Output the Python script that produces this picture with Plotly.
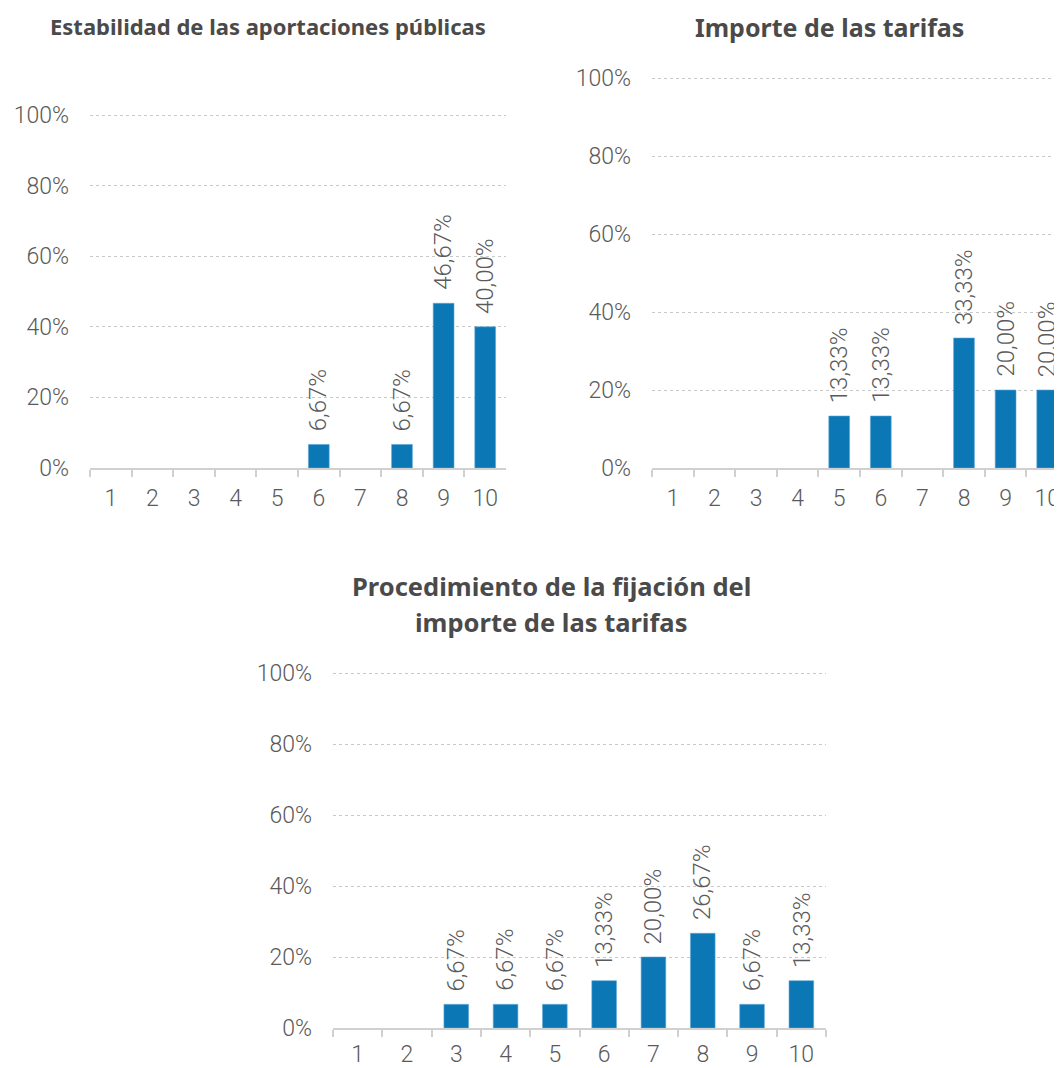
import plotly.graph_objects as go

categories = ["1", "2", "3", "4", "5", "6", "7", "8", "9", "10"]
estabilidad = [0, 0, 0, 0, 0, 0.0667, 0, 0.0667, 0.4667, 0.40]
importe = [0, 0, 0, 0, 0.1333, 0.1333, 0, 0.3333, 0.20, 0.20]
procedimiento = [0, 0, 0.0667, 0.0667, 0.0667, 0.1333, 0.20, 0.2667, 0.0667, 0.1333]
y_ticks = [0, 0.2, 0.4, 0.6, 0.8, 1.0]
y_ticklabels = ["0%", "20%", "40%", "60%", "80%", "100%"]
title_lines = [["Estabilidad de las aportaciones públicas"], ["Importe de las tarifas"],
               ["Procedimiento de la fijación del", "importe de las tarifas"]]

# page is shown with an 8px body margin: work in page pixels, convert to figure pixels
OFF = 8
PW, PH = 1062, 1068
W, H = PW - OFF, PH - OFF
BAR = "#0B77B5"
GREY = "#5a5a5a"
TITLE_C = "#4a4a4a"
FONT = "Roboto"
TFONT = "Noto Sans"
TOP = 1.03

def fmt(v):
    return f"{v*100:.2f}%".replace(".", ",")

def px_x(p):
    return (p - OFF) / W

def px_y(p):
    return (H - (p - OFF)) / H

fig = go.Figure()
series = [estabilidad, importe, procedimiento]
suffix = ["", "2", "3"]
for i, vals in enumerate(series):
    fig.add_trace(go.Bar(
        x=categories, y=[v if v > 0 else None for v in vals],
        marker=dict(color=BAR, line=dict(color="#5EA7D6", width=0.6)),
        xaxis="x" + suffix[i], yaxis="y" + suffix[i], showlegend=False, hoverinfo="skip",
    ))
    for k, (c, v) in enumerate(zip(categories, vals)):
        if v > 0:
            fig.add_annotation(
                x=k, y=v, xref="x" + suffix[i], yref="y" + suffix[i],
                text=fmt(v), textangle=-90, showarrow=False,
                yanchor="bottom", xanchor="center", yshift=11,
                font=dict(family=FONT, size=24, color=GREY, weight=300),
            )

def xd(a, b):
    return [px_x(a), min(px_x(b), 1)]

def yd(zero_px, hundred_px):
    ppu = zero_px - hundred_px
    top_px = zero_px - TOP * ppu
    return [px_y(zero_px), px_y(top_px)]

geo = [
    dict(x=xd(90, 506), y=yd(468, 115), xr=[-0.5, 9.5], so=9),
    dict(x=xd(652, 1062), y=yd(468, 78), xr=[-0.5, -0.5 + (1062 - 652) / 41.6], so=9),
    dict(x=xd(333, 826), y=yd(1028, 673), xr=[-0.5, 9.5], so=5),
]

layout = dict(
    width=W, height=H, margin=dict(l=0, r=0, t=0, b=0),
    paper_bgcolor="white", plot_bgcolor="white", bargap=0.5,
    font=dict(family=FONT, color=GREY),
)
for i, g in enumerate(geo):
    xn = "xaxis" + suffix[i]
    yn = "yaxis" + suffix[i]
    layout[xn] = dict(
        domain=g["x"], anchor="y" + suffix[i], type="category", range=g["xr"],
        showline=True, linecolor="#d0d0d0", linewidth=1.5,
        ticks="outside", tickson="boundaries", ticklen=7, tickcolor="#d0d0d0", tickwidth=1.5,
        showgrid=False, tickfont=dict(family=FONT, size=23, color=GREY, weight=300),
        ticklabelstandoff=g["so"], fixedrange=True, automargin=False,
    )
    layout[yn] = dict(
        domain=g["y"], anchor="x" + suffix[i], range=[0, TOP],
        tickvals=y_ticks, ticktext=y_ticklabels,
        showgrid=True, gridcolor="#c8c8c8", griddash="dot", gridwidth=1,
        zeroline=False, showline=False, ticks="",
        tickfont=dict(family=FONT, size=23, color=GREY, weight=300),
        ticklabelstandoff=20, fixedrange=True, automargin=False,
    )
fig.update_layout(**layout)

# title line centres in page pixels, font size
title_pos = [[(268, 26)], [(829, 27)], [(551, 586), (551, 622)]]
title_size = [22, 25, 25.5]
for lines, pos, fs in zip(title_lines, title_pos, title_size):
    for t, (cx, cy) in zip(lines, pos):
        fig.add_annotation(
            x=px_x(cx), y=px_y(cy), xref="paper", yref="paper", text=t, showarrow=False,
            xanchor="center", yanchor="middle",
            font=dict(family=TFONT, size=fs, color=TITLE_C, weight="bold"),
        )

fig.write_html("out.html")
